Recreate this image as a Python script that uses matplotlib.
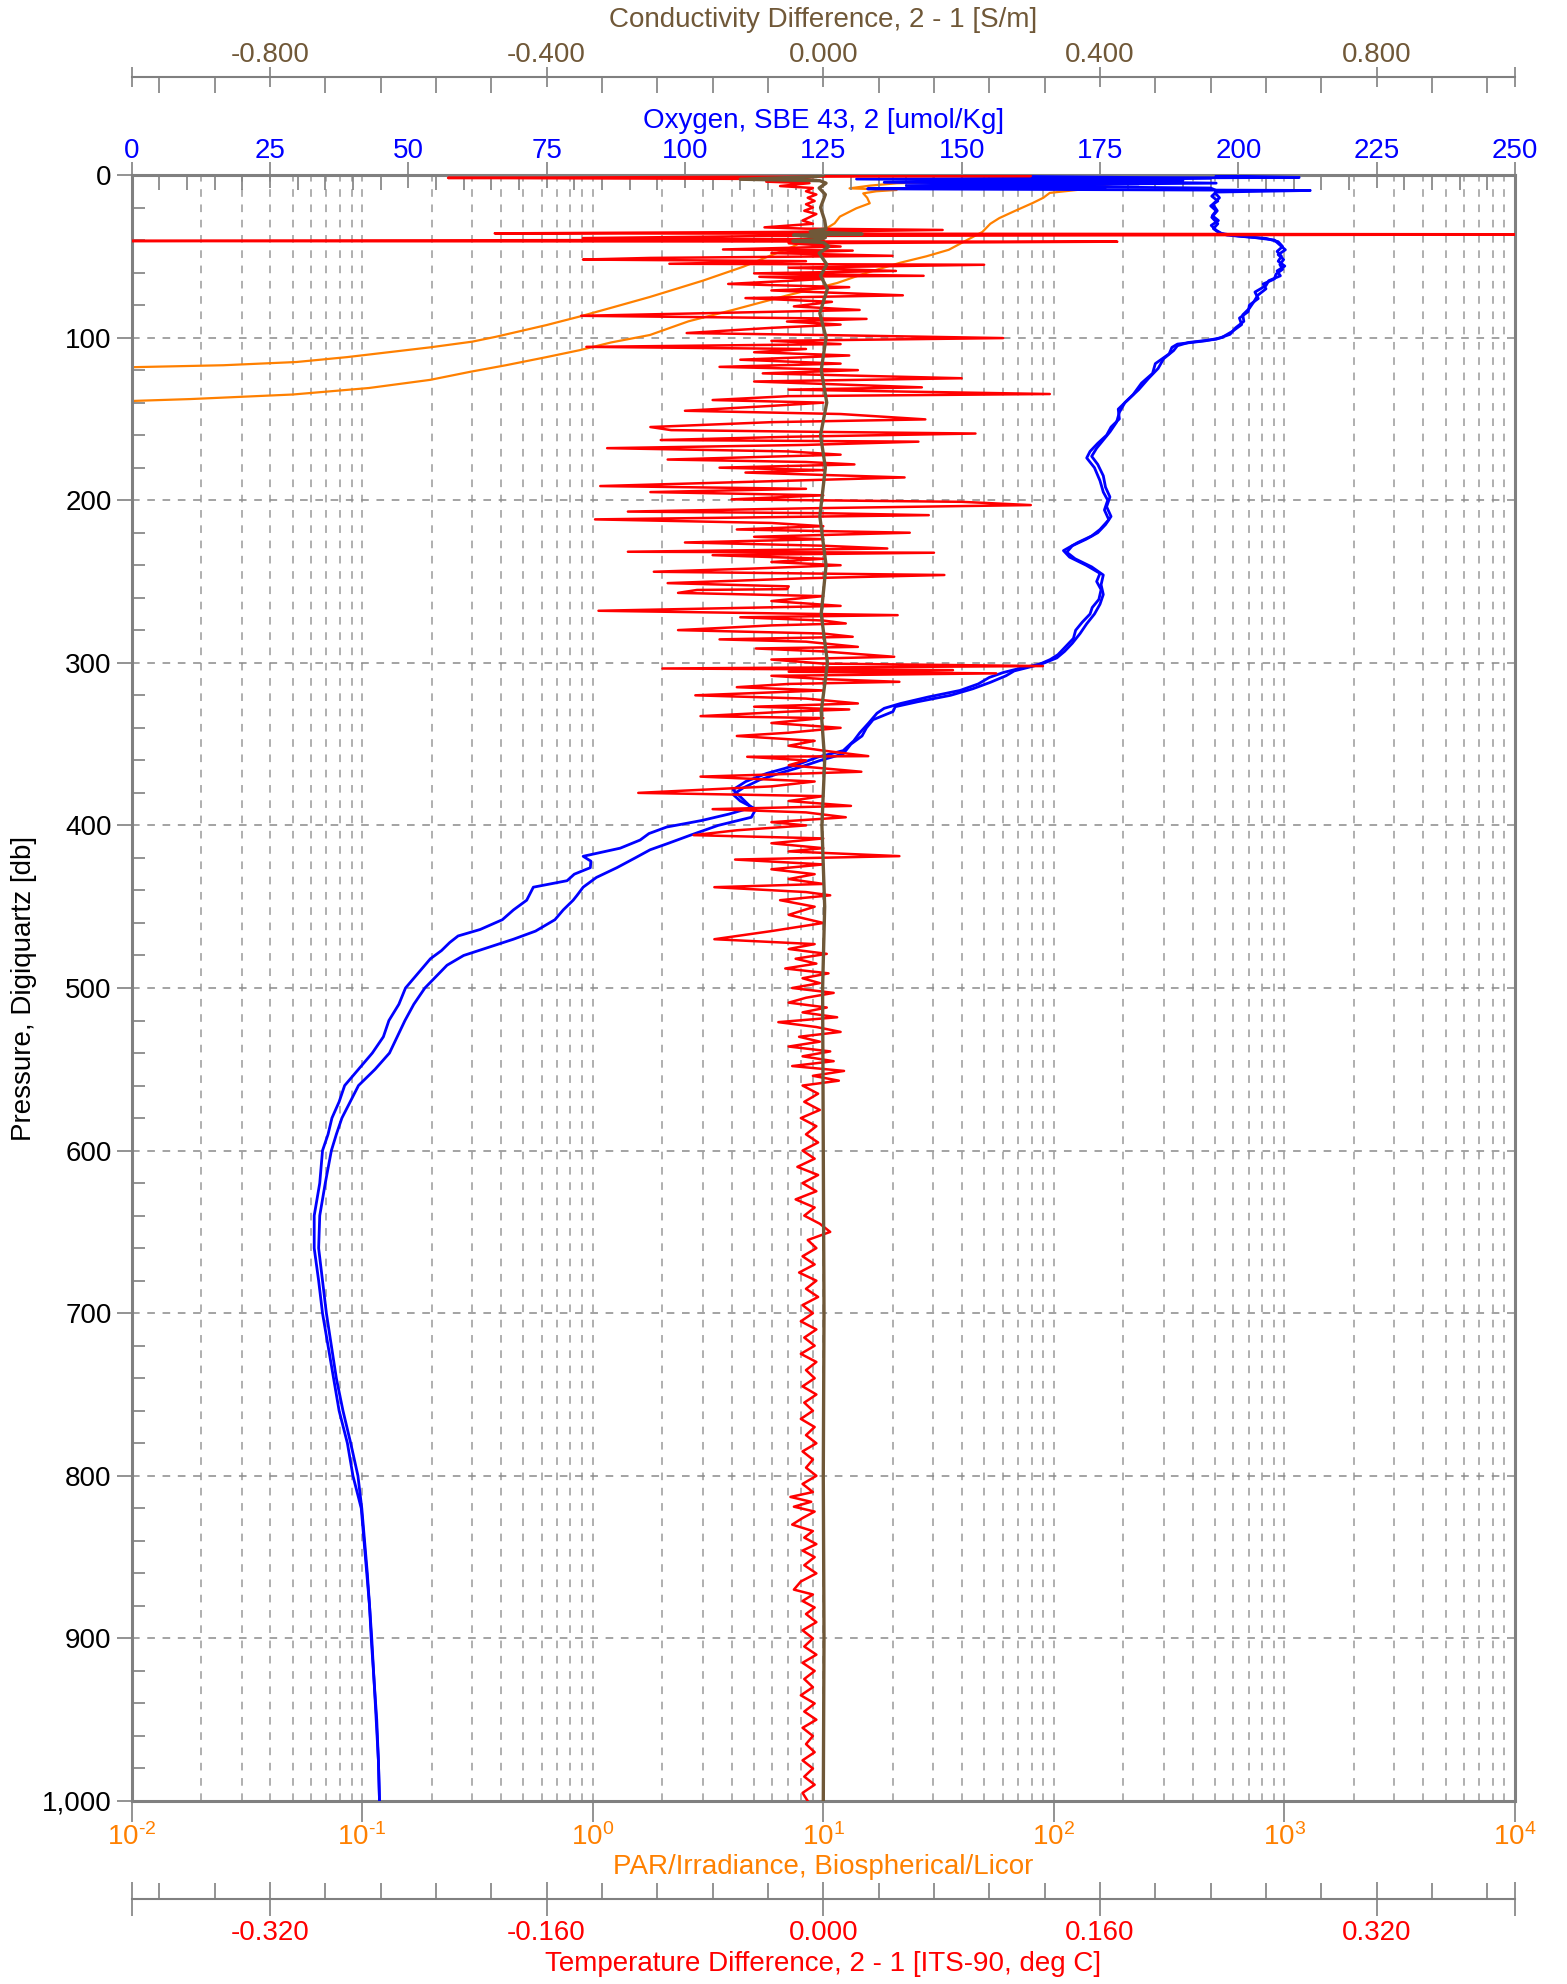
import numpy as np
import matplotlib
matplotlib.use("Agg")
import matplotlib.pyplot as plt
from matplotlib.ticker import (FixedLocator, FixedFormatter, MultipleLocator,
                               LogLocator, FuncFormatter, NullFormatter)

plt.rcParams['font.family'] = ['Liberation Sans', 'DejaVu Sans']
plt.rcParams['mathtext.fontset'] = 'custom'
plt.rcParams['mathtext.rm'] = 'Liberation Sans'
plt.rcParams['lines.scale_dashes'] = False

# ---- PAR / irradiance, two casts (bottom log axis)
par1_p = [0.5, 2, 3, 4, 5.1, 6.5, 8.2, 9.2, 10, 11.3,
          14, 17.4, 20.5, 25.6, 29.7, 36, 44, 50, 56.4, 65,
          75, 81, 87, 92.3, 99.5, 102.5, 106, 112, 115, 117,
          118.5]
par1_v = [205, 230, 150, 40, 20.8, 16, 13, 20.8, 17, 14.9,
          15.5, 15.9, 13.9, 11.8, 11.2, 9.5, 7.4, 5.8, 4.5, 3.0,
          1.77, 1.25, 0.88, 0.63, 0.38, 0.3, 0.197, 0.086, 0.052, 0.025,
          0.008]
par2_p = [0.5, 3, 5, 9.2, 11, 14, 17.2, 22, 26.5, 30,
          35, 40, 46, 50, 54, 60, 66.4, 74, 83, 90,
          98.4, 103, 107.7, 112, 117, 121, 126, 131, 135, 137.8,
          140]
par2_v = [215, 219, 188, 126, 96, 90, 81, 68, 58, 53,
          49, 42, 35, 28, 21.5, 15.5, 11.5, 7, 4.05, 2.6,
          1.77, 1.2, 0.88, 0.63, 0.42, 0.295, 0.197, 0.107, 0.05, 0.018,
          0.006]
par_decades = [1e-2, 1e-1, 1e0, 1e1, 1e2, 1e3, 1e4]

# ---- Oxygen, two casts (inner top axis)
oxy1_p = [0.5, 1.5, 2.5, 3.5, 4.5, 5.5, 6.5, 7.5, 8.5, 9.5,
          10.5, 13, 16, 19, 22, 25, 28, 31, 34, 36,
          37.5, 39, 41, 44, 47, 50, 53, 56, 59, 62,
          65, 68, 72, 76, 80, 84, 88, 92, 96, 100,
          102, 104, 106, 110, 116, 122, 128, 135, 144, 150,
          155, 160, 165, 170, 174, 180, 188, 195, 200, 206,
          212, 218, 222, 226, 231, 235, 240, 245, 250, 255,
          261, 266, 270, 275, 280, 285, 290, 295, 298, 301,
          303, 306, 309, 313, 317, 321, 325, 328, 331, 337,
          343, 348, 354, 358, 362, 365, 368, 373, 378, 384,
          389, 393, 397, 401, 405, 409, 414, 419, 422, 426,
          430, 434, 438, 442, 446, 452, 458, 464, 468, 472,
          477, 482, 490, 500, 510, 520, 530, 540, 550, 560,
          570, 580, 590, 600, 620, 640, 660, 680, 700, 720,
          740, 760, 780, 800, 820, 840, 860, 880, 900, 925,
          950, 975, 1000]
oxy1_v = [196, 211, 131, 190, 136, 182, 140, 176, 133, 213,
          196, 195.2, 196.3, 195.0, 196.0, 195.3, 196.4, 195.1, 196.0, 197,
          200, 205, 207.2, 208.0, 207.0, 207.8, 207.2, 208.4, 207.0, 207.6,
          205.5, 205.0, 203.0, 203.6, 202.0, 201.8, 200.2, 200.6, 199.0, 197.0,
          194, 189, 188, 187.5, 185, 184.5, 182.5, 181, 178.3, 178.5,
          177, 176.2, 174.6, 173.2, 172.6, 174, 175, 175.6, 176.4, 175.8,
          176.6, 175.0, 173.5, 171, 168.4, 169.5, 172.5, 175, 174.4, 175.2,
          174.8, 173.6, 173.2, 171.8, 170.6, 170.2, 168.8, 167.4, 166, 164,
          161, 157.5, 155, 153, 149.7, 144, 139, 136, 134.7, 133.2,
          131.6, 130.5, 128.6, 124, 120.8, 118, 114.8, 111, 108.7, 110.5,
          112, 108, 103, 96.7, 93.5, 91.9, 88.3, 81.6, 83, 82.9,
          80, 78.7, 72.6, 72, 71.4, 69, 67, 63, 59, 57.5,
          56, 54, 52, 49.5, 48.3, 46.5, 45.5, 43.5, 41, 38.5,
          37.5, 36.2, 35.5, 34.5, 34, 33, 33, 33.8, 34.5, 35.5,
          36.5, 37.5, 39, 40, 41.5, 42, 42.5, 43, 43.4, 43.8,
          44.2, 44.6, 44.8]
oxy2_p = [0.5, 2, 3.5, 5, 6.5, 8, 9.5, 11, 14, 18,
          22, 26, 30, 33, 35.5, 37, 38.5, 40, 43, 46,
          49, 52, 55, 58, 61, 64, 67, 70, 74, 78,
          82, 86, 90, 94, 98, 101, 103, 105, 108, 113,
          119, 125, 132, 140, 146, 152, 158, 163, 168, 173,
          178, 185, 192, 198, 204, 210, 215, 220, 224, 228,
          232, 236, 241, 246, 252, 258, 264, 270, 276, 282,
          288, 293, 297, 300, 302, 305, 308, 312, 316, 320,
          324, 327, 330, 335, 340, 345, 350, 356, 360, 364,
          368, 372, 377, 381, 385, 390, 395, 400, 406, 411,
          415, 420, 426, 432, 438, 443, 446, 452, 458, 465,
          470, 475, 480, 486, 493, 500, 510, 520, 530, 540,
          550, 560, 570, 580, 590, 600, 620, 640, 660, 680,
          700, 720, 740, 760, 780, 800, 820, 840, 860, 880,
          900, 925, 950, 975, 1000]
oxy2_v = [150, 195, 160, 196, 145, 195, 196, 195.8, 196.6, 195.4,
          196.2, 195.2, 196.3, 195.5, 196.5, 198, 203, 206.5, 207.5, 208.5,
          207.2, 208.2, 207.5, 208, 206.8, 206.5, 204.5, 205, 203.5, 202.8,
          202, 200.8, 201, 199.5, 198.5, 196, 191, 189, 188.3, 186.5,
          185.5, 183.8, 182, 179.5, 178.5, 178, 176.8, 175.6, 174.4, 173.5,
          174.6, 175.6, 176, 176.8, 176.2, 177, 176, 174.6, 172.5, 170,
          169, 170.5, 173.5, 175.6, 175.2, 175.6, 175, 174, 172.6, 171.4,
          170, 168.6, 167.2, 165, 163, 159.5, 158, 155.2, 152, 148,
          142, 138, 137.6, 134, 132.8, 132, 130, 128.6, 124.5, 121,
          117, 113.5, 110.5, 108.7, 110, 112.8, 112, 106, 101, 97,
          93.7, 91, 87.7, 84, 81.6, 80.5, 79.8, 78, 76.5, 73,
          69, 64.5, 60, 57, 55, 53, 51, 49.4, 48, 46.6,
          44, 41, 39.5, 38, 37, 36.1, 35, 34, 33.8, 34.5,
          35.2, 36.1, 37, 38.2, 39.6, 40.9, 41.6, 42.1, 42.6, 43,
          43.3, 43.8, 44.3, 44.6, 44.8]

# ---- Temperature difference 2 - 1 (outer bottom axis)
temp_p = [0.3, 0.6, 1.0, 1.8, 2.5, 3.3, 4.1, 5, 6.8, 8,
          10, 12, 14, 16, 18, 20, 22, 24, 26, 28,
          30, 32.2, 33, 33.8, 35, 35.9, 36.5, 37.5, 38.8, 39.8,
          40.6, 41.0, 42, 44, 45.8, 46.5, 48, 49.7, 51, 52,
          53, 54.6, 55.2, 57, 59, 60.5, 62, 62.6, 64, 67,
          69, 71, 74, 75.7, 78, 80.8, 83, 86.6, 88.5, 90.1,
          92, 94, 97.2, 98.5, 100.3, 102, 104, 105.7, 107, 109,
          111, 113.6, 116, 118, 120, 122, 125, 127, 130.6, 132,
          134.7, 136, 138.4, 140, 142, 145, 147, 150.3, 152, 155,
          156.9, 158, 159, 161, 163, 164, 166, 168, 170, 172,
          175, 176.5, 178, 180, 181.5, 183, 184.5, 186, 188, 191.3,
          193, 195, 197, 199.5, 201, 203, 205, 207, 208, 209.2,
          211.8, 214, 216, 218, 220, 222.5, 224, 226, 228, 229.7,
          231.7, 232.3, 233.8, 236, 238, 240, 242, 244, 246, 248,
          251, 253, 254.7, 255.2, 257, 259, 262, 265, 268, 270.7,
          272, 274, 275.8, 277, 279.9, 282, 284, 285.6, 287, 290.2,
          291.2, 293, 296.3, 298, 300.5, 302, 303.5, 304.5, 305.5, 306.5,
          308, 310, 311.7, 313, 315, 317, 320, 322, 325, 327,
          328.7, 330, 332.8, 334, 337, 340, 343, 345, 348, 351,
          354, 357.4, 357.8, 360, 363, 367, 370, 373, 376, 380,
          382, 385, 388, 390, 392, 395, 398, 400, 403, 406,
          408, 411, 414, 416, 418.9, 421, 424, 427, 430, 433,
          436, 438, 441, 443, 446, 450, 455, 460, 465, 470,
          473, 476, 479, 482, 485, 488, 491, 494, 497, 500,
          503, 506, 509, 512, 515, 518, 521, 524, 527, 530,
          533, 536, 539, 542, 545, 548, 551, 554, 557, 560,
          565, 570, 575, 580, 585, 590, 595, 600, 605, 610,
          615, 620, 625, 630, 635, 640, 645, 650, 655, 660,
          665, 670, 675, 680, 685, 690, 695, 700, 705, 710,
          715, 720, 725, 730, 735, 740, 745, 750, 755, 760,
          765, 770, 775, 780, 785, 790, 795, 800, 805, 810,
          813, 816, 819, 822, 826, 830, 834, 838, 842, 846,
          850, 855, 860, 865, 870, 873, 877, 881, 885, 890,
          895, 900, 905, 910, 915, 920, 925, 930, 935, 940,
          945, 950, 955, 960, 965, 970, 975, 980, 985, 990,
          995, 1000]
temp_v = [0.0, 0.12, -0.005, -0.217, -0.01, -0.004, -0.033, -0.008, -0.025, -0.006,
          -0.01, -0.004, -0.009, -0.005, -0.01, -0.006, -0.011, -0.004, -0.008, -0.012,
          -0.006, -0.034, -0.01, 0.069, -0.02, -0.19, 0.45, -0.03, -0.139, 0.0,
          -0.45, 0.17, -0.02, 0.01, -0.058, 0.017, -0.03, 0.04, -0.1, -0.139,
          -0.01, -0.089, 0.093, -0.02, 0.042, -0.04, 0.058, -0.037, 0.0, -0.055,
          0.015, -0.03, 0.046, -0.045, 0.005, -0.017, 0.021, -0.14, 0.025, -0.021,
          0.01, -0.03, -0.079, 0.005, 0.104, -0.03, 0.01, -0.137, -0.01, -0.04,
          0.015, -0.048, 0.01, -0.06, 0.02, -0.035, 0.08, -0.04, 0.057, -0.02,
          0.131, -0.02, -0.064, 0.0, -0.03, -0.08, 0.01, 0.059, -0.03, -0.1,
          -0.088, 0.0, 0.088, -0.02, -0.094, 0.055, -0.01, -0.125, -0.02, 0.01,
          -0.09, -0.01, 0.018, -0.06, 0.0, -0.045, 0.0, 0.047, -0.02, -0.129,
          -0.01, -0.1, 0.0, -0.053, 0.08, 0.12, -0.01, -0.113, 0.0, 0.061,
          -0.132, -0.03, 0.0, -0.05, 0.05, -0.04, 0.0, -0.08, 0.0, 0.037,
          -0.113, 0.064, -0.064, 0.0, -0.03, 0.01, -0.04, -0.098, 0.07, -0.01,
          -0.09, -0.02, -0.021, -0.073, -0.084, 0.0, -0.03, 0.01, -0.13, 0.043,
          -0.048, 0.0, 0.013, -0.03, -0.084, 0.0, 0.017, -0.06, -0.01, 0.02,
          -0.039, 0.0, 0.041, -0.03, 0.0, 0.127, -0.093, 0.075, -0.02, 0.1,
          -0.03, 0.0, 0.044, -0.02, -0.05, 0.0, -0.074, -0.01, 0.02, -0.04,
          0.015, -0.02, -0.071, 0.0, -0.03, 0.01, -0.02, -0.05, -0.005, -0.02,
          0.0, 0.026, -0.044, -0.01, -0.02, 0.022, -0.071, -0.005, -0.03, -0.107,
          0.0, -0.02, 0.016, -0.064, -0.01, 0.013, -0.03, -0.01, -0.05, -0.075,
          0.0, -0.03, 0.0, -0.02, 0.044, -0.051, 0.0, -0.03, -0.005, -0.02,
          0.0, -0.063, -0.01, 0.004, -0.025, -0.005, -0.02, 0.0, -0.03, -0.063,
          -0.005, -0.02, 0.002, -0.016, -0.004, -0.022, 0.003, -0.012, -0.002, -0.018,
          0.006, -0.01, -0.02, 0.002, -0.012, 0.008, -0.026, -0.004, 0.01, -0.014,
          -0.002, -0.02, 0.004, -0.012, 0.006, -0.018, 0.012, -0.006, 0.009, -0.012,
          -0.003, -0.011, -0.002, -0.013, -0.004, -0.01, -0.003, -0.012, -0.005, -0.015,
          -0.003, -0.012, -0.004, -0.016, -0.005, -0.011, -0.002, 0.004, -0.009, -0.004,
          -0.012, -0.005, -0.014, -0.004, -0.01, -0.003, -0.012, -0.006, -0.013, -0.004,
          -0.011, -0.005, -0.013, -0.004, -0.01, -0.005, -0.012, -0.004, -0.011, -0.006,
          -0.013, -0.005, -0.01, -0.004, -0.012, -0.006, -0.01, -0.004, -0.012, -0.006,
          -0.019, -0.007, -0.017, -0.005, -0.012, -0.018, -0.006, -0.011, -0.004, -0.012,
          -0.005, -0.011, -0.004, -0.013, -0.017, -0.006, -0.012, -0.005, -0.01, -0.004,
          -0.012, -0.006, -0.011, -0.004, -0.012, -0.005, -0.011, -0.006, -0.013, -0.005,
          -0.011, -0.004, -0.012, -0.006, -0.01, -0.005, -0.012, -0.006, -0.011, -0.005,
          -0.012, -0.009]

# ---- Conductivity difference 2 - 1 (outer top axis)
cond_p = [0, 1.0, 2.6, 3.5, 5, 8, 12, 20, 28, 33,
          34.8, 35.5, 36.3, 37.0, 38.5, 40.0, 40.6, 41.5, 44, 48,
          55, 62, 70, 85, 100, 120, 140, 160, 180, 210,
          240, 270, 300, 330, 360, 400, 450, 500, 600, 700,
          800, 900, 1000]
cond_v = [0.0, -0.01, -0.12, -0.005, 0.004, -0.006, 0.003, -0.004, 0.002, 0.004,
          -0.019, 0.012, 0.056, -0.043, 0.003, -0.012, -0.044, 0.0, 0.008, -0.006,
          0.005, -0.004, 0.006, -0.005, 0.004, -0.003, 0.005, -0.004, 0.003, -0.005,
          0.004, -0.003, 0.006, -0.003, 0.002, -0.002, 0.002, -0.001, 0.0, 0.001,
          0.0, 0.001, 0.0]

GRAY = '#808080'
ORANGE = '#FF8000'
RED = '#FF0000'
BLUE = '#0000FF'
BROWN = '#705838'
FS = 20

W, H = 1567, 1984
fig = plt.figure(figsize=(W / 100, H / 100), dpi=100)
left, right, top, bottom = 131.6, 1515.0, 175.0, 1801.0
ax = fig.add_axes([left / W, 1 - bottom / H, (right - left) / W, (bottom - top) / H])

# main axes: PAR (log) vs pressure
ax.set_xscale('log')
ax.plot(par1_v, par1_p, color=ORANGE, lw=1.6)
ax.plot(par2_v, par2_p, color=ORANGE, lw=1.6)
ax.set_xlim(1e-2, 1e4)
ax.set_ylim(1000, 0)

# twin axes, created in drawing order: oxygen, temperature, conductivity
ax_o = ax.twiny()
ax_o.plot(oxy1_v, oxy1_p, color=BLUE, lw=2.0)
ax_o.plot(oxy2_v, oxy2_p, color=BLUE, lw=2.0)
ax_o.set_xlim(0, 250)

ax_t = ax.twiny()
ax_t.plot(temp_v, temp_p, color=RED, lw=1.8)
ax_t.set_xlim(-0.4, 0.4)

ax_c = ax.twiny()
ax_c.plot(cond_v, cond_p, color=BROWN, lw=2.4)
ax_c.set_xlim(-1.0, 1.0)

# --- PAR axis ticks + grid
ax.xaxis.set_ticks_position('bottom')
ax.xaxis.set_major_locator(FixedLocator(par_decades))
ax.xaxis.set_minor_locator(LogLocator(base=10, subs=np.arange(2, 10), numticks=100))
ax.xaxis.set_major_formatter(FuncFormatter(
    lambda v, pos: r'$\mathregular{10^{\text{%d}}}$' % round(np.log10(v))))
ax.xaxis.set_minor_formatter(NullFormatter())
ax.tick_params(axis='x', which='major', direction='out', length=15, width=1.2,
               color=GRAY, labelcolor=ORANGE, labelsize=FS, pad=0.8, top=False)
ax.tick_params(axis='x', which='minor', length=0, top=False)
ax.grid(axis='x', which='both', color='#9a9a9a', lw=1.1, ls=(0, (5.5, 5.5)))

ax.yaxis.set_major_locator(MultipleLocator(100))
ax.yaxis.set_minor_locator(MultipleLocator(20))
ax.yaxis.set_major_formatter(FuncFormatter(lambda v, pos: f'{v:,.0f}'))
ax.tick_params(axis='y', which='major', direction='out', length=10.8, width=1.2,
               color=GRAY, labelsize=FS, pad=3.6, right=False)
ax.tick_params(axis='y', which='minor', direction='in', length=9, width=1.2,
               color=GRAY, right=False)
ax.grid(axis='y', which='major', color='#8a8a8a', lw=1.1, ls=(0, (5.5, 5.5)))
for s in ax.spines.values():
    s.set_color(GRAY)
    s.set_linewidth(2.2)

# --- oxygen axis (inner top)
for s in ax_o.spines.values():
    s.set_visible(False)
ax_o.xaxis.set_major_locator(MultipleLocator(25))
ax_o.xaxis.set_minor_locator(MultipleLocator(5))
ax_o.tick_params(axis='x', which='major', direction='inout', length=19, width=1.2,
                 color=GRAY, labelcolor=BLUE, labelsize=FS, pad=-1.5)
ax_o.tick_params(axis='x', which='minor', direction='in', length=11, width=1.2,
                 color=GRAY)

# --- temperature difference axis (outer bottom)
ax_t.xaxis.set_ticks_position('bottom')
ax_t.xaxis.set_label_position('bottom')
for k in ['top', 'left', 'right']:
    ax_t.spines[k].set_visible(False)
ax_t.spines['bottom'].set_position(('outward', 70.6))
ax_t.spines['bottom'].set_color(GRAY)
ax_t.spines['bottom'].set_linewidth(1.5)
t_major = [-0.4, -0.32, -0.16, 0.0, 0.16, 0.32, 0.4]
t_labels = ['', '-0.320', '-0.160', '0.000', '0.160', '0.320', '']
t_minor = [k * 0.032 for k in range(-12, 13) if k % 5 != 0]
ax_t.xaxis.set_major_locator(FixedLocator(t_major))
ax_t.xaxis.set_major_formatter(FixedFormatter(t_labels))
ax_t.xaxis.set_minor_locator(FixedLocator(t_minor))
ax_t.tick_params(axis='x', which='major', direction='inout', length=24.5, width=1.2,
                 color=GRAY, labelcolor=RED, labelsize=FS, pad=2.9)
ax_t.tick_params(axis='x', which='minor', direction='in', length=11.5, width=1.2,
                 color=GRAY)

# --- conductivity difference axis (outer top)
for k in ['bottom', 'left', 'right']:
    ax_c.spines[k].set_visible(False)
ax_c.spines['top'].set_position(('outward', 70.6))
ax_c.spines['top'].set_color(GRAY)
ax_c.spines['top'].set_linewidth(1.5)
c_major = [-1.0, -0.8, -0.4, 0.0, 0.4, 0.8, 1.0]
c_labels = ['', '-0.800', '-0.400', '0.000', '0.400', '0.800', '']
c_minor = [k * 0.08 for k in range(-12, 13) if k % 5 != 0]
ax_c.xaxis.set_major_locator(FixedLocator(c_major))
ax_c.xaxis.set_major_formatter(FixedFormatter(c_labels))
ax_c.xaxis.set_minor_locator(FixedLocator(c_minor))
ax_c.tick_params(axis='x', which='major', direction='inout', length=15, width=1.2,
                 color=GRAY, labelcolor=BROWN, labelsize=FS, pad=-1)
ax_c.tick_params(axis='x', which='minor', direction='in', length=11.5, width=1.2,
                 color=GRAY)

# --- axis titles
xc = (left + right) / 2 / W
fig.text(xc, 1 - 20 / H, 'Conductivity Difference, 2 - 1 [S/m]', color=BROWN,
         fontsize=FS, ha='center', va='center')
fig.text(xc, 1 - 121 / H, 'Oxygen, SBE 43, 2 [umol/Kg]', color=BLUE,
         fontsize=FS, ha='center', va='center')
fig.text(xc, 1 - 1867 / H, 'PAR/Irradiance, Biospherical/Licor', color=ORANGE,
         fontsize=FS, ha='center', va='center')
fig.text(xc, 1 - 1964 / H, 'Temperature Difference, 2 - 1 [ITS-90, deg C]', color=RED,
         fontsize=FS, ha='center', va='center')
fig.text(24 / W, 1 - 988 / H, 'Pressure, Digiquartz [db]', color='black',
         fontsize=FS, ha='center', va='center', rotation=90)

fig.savefig('out.png', dpi=100, facecolor='white')
